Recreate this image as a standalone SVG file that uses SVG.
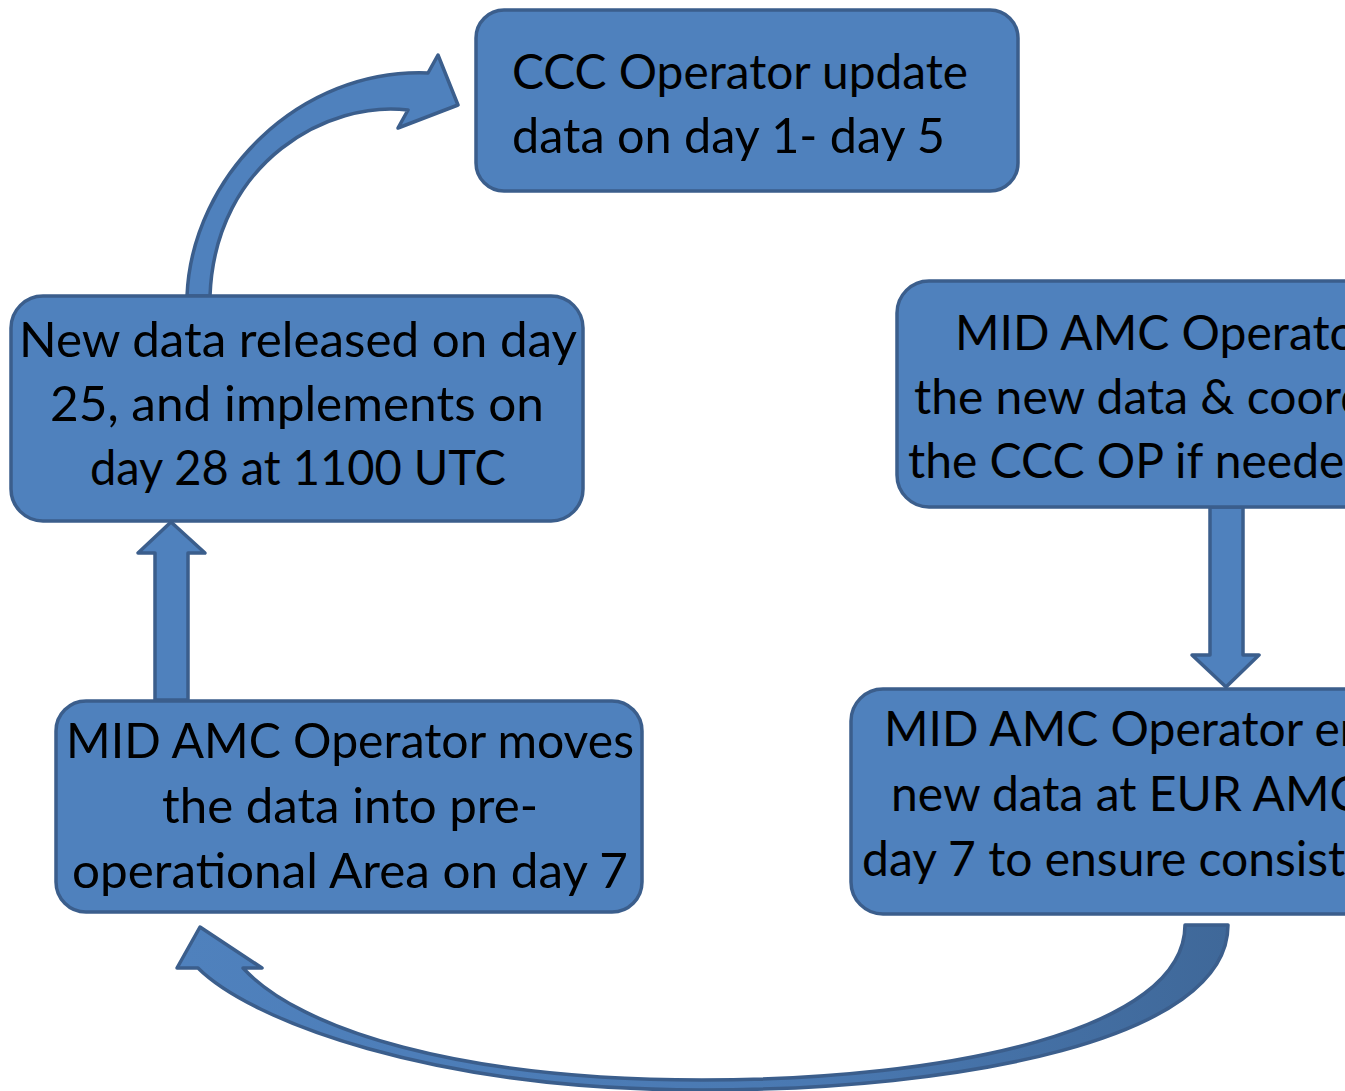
<svg xmlns="http://www.w3.org/2000/svg" width="1345" height="1091" viewBox="0 0 1345 1091">
<style>
.box{fill:#4f81bd;stroke:#3b5e8c;stroke-width:3.5}
.arr{fill:#4f81bd;stroke:#3b5e8c;stroke-width:3.5;stroke-linejoin:round}
.t{font-family:Lato,"Open Sans",sans-serif;font-size:48px;fill:#000}
.c{text-anchor:middle}
</style>
<defs>
<linearGradient id="gb" x1="0" y1="0" x2="1" y2="0">
<stop offset="0" stop-color="#4f81bd"/>
<stop offset="0.6" stop-color="#4a79b2"/>
<stop offset="1" stop-color="#3f6899"/>
</linearGradient>
</defs>
<rect width="1345" height="1091" fill="#fff"/>
<g id="connectors">
<path class="arr" d="M187,296 C192,175 300,68 428,73 L438,55 L458,105 L398,128 L408,110 C330,100 215,160 210,296 Z"/>
<path class="arr" d="M155,700 L155,553 L138,553 L171,522 L205,553 L188,553 L188,700 Z"/>
<path class="arr" d="M1210,507 L1210,655 L1192,655 L1226,687 L1259,655 L1243,655 L1243,507 Z"/>
<path class="arr" style="fill:url(#gb)" d="M1228,925 C1228,1040 960,1090 702,1090 C430,1090 250,1020 198,968 L177,968 L200,927 L262,968 L243,968 C300,1030 460,1080 702,1080 C950,1080 1185,1030 1185,925 Z"/>
</g>
<g id="node-ccc">
<rect class="box" x="476" y="10" width="542" height="181" rx="28"/>
<text class="t" x="512" y="89" textLength="456" lengthAdjust="spacingAndGlyphs">CCC Operator update</text>
<text class="t" x="512" y="153" textLength="433" lengthAdjust="spacingAndGlyphs">data on day 1- day 5</text>
</g>
<g id="node-released">
<rect class="box" x="11" y="296" width="572" height="225" rx="32"/>
<text class="t" x="19" y="357" textLength="558" lengthAdjust="spacingAndGlyphs">New data released on day</text>
<text class="t" x="50" y="421" textLength="494" lengthAdjust="spacingAndGlyphs">25, and implements on</text>
<text class="t" x="90" y="485" textLength="416" lengthAdjust="spacingAndGlyphs">day 28 at 1100 UTC</text>
</g>
<g id="node-moves">
<rect class="box" x="56" y="701" width="586" height="211" rx="30"/>
<text class="t" x="66" y="758" textLength="568" lengthAdjust="spacingAndGlyphs">MID AMC Operator moves</text>
<text class="t" x="162" y="823" textLength="376" lengthAdjust="spacingAndGlyphs">the data into pre-</text>
<text class="t" x="72" y="888" textLength="556" lengthAdjust="spacingAndGlyphs">operational Area on day 7</text>
</g>
<g id="node-checks">
<rect class="box" x="897" y="281" width="520" height="226" rx="32"/>
<text class="t" x="955" y="350">MID AMC Operator</text>
<text class="t" x="914" y="414">the new data &amp; coord</text>
<text class="t" x="908" y="478">the CCC OP if needed</text>
</g>
<g id="node-eur">
<rect class="box" x="851" y="689" width="560" height="225" rx="32"/>
<text class="t" x="884" y="746">MID AMC Operator en</text>
<text class="t" x="891" y="811">new data at EUR AMC</text>
<text class="t" x="862" y="876">day 7 to ensure consist</text>
</g>
</svg>
